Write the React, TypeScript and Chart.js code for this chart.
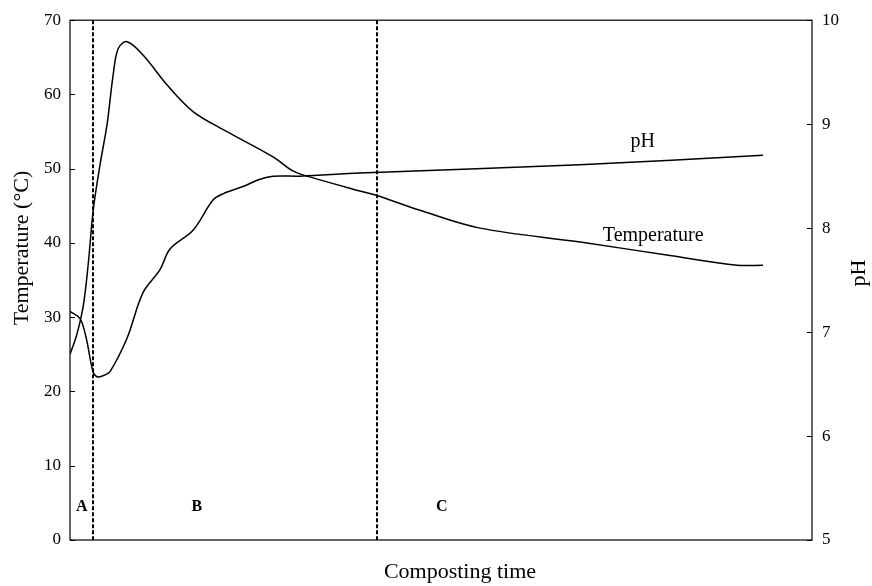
import React, { useEffect, useRef } from "react";
import { Chart, registerables } from "chart.js";

Chart.register(...registerables);

// x in relative composting-time units (0..100)
const tempX = [0, 0.9, 1.8, 2.47, 3.14, 4.04, 5.0, 5.8, 6.5, 7.7, 9.84, 13.07, 16.58, 21.16, 27.36, 30.05, 32.3, 39.08, 41.37, 47.17, 55.26, 69.0, 80.86, 89.9, 93.4];
const tempY = [25, 27.6, 31.6, 37.3, 44.5, 50.5, 56, 62.5, 66.2, 67.1, 65.3, 61.3, 57.7, 55, 51.6, 49.7, 48.9, 47, 46.4, 44.4, 42, 40.1, 38.3, 37, 37];

const phX = [0, 1.35, 2.16, 3.1, 3.64, 4.45, 5.39, 7.68, 9.84, 12.13, 13.48, 16.58, 19.27, 20.62, 23.32, 25.6, 27.36, 31.0, 39.08, 68.7, 93.4];
const phY = [7.2, 7.13, 6.95, 6.62, 6.57, 6.58, 6.62, 6.94, 7.38, 7.6, 7.8, 7.98, 8.27, 8.33, 8.4, 8.47, 8.5, 8.5, 8.53, 8.61, 8.7];

const phaseBoundaries = [3.1, 41.4];
const phaseLabels = ["A", "B", "C"];
const phaseLabelX = [1.6, 17.1, 50.1];
const phaseLabelTemp = 3.9;

const tempTicks = [0, 10, 20, 30, 40, 50, 60, 70];
const phTicks = [5, 6, 7, 8, 9, 10];

const seriesLabels = [
  { text: "pH", x: 77.2, y: 8.78, axis: "y1" },
  { text: "Temperature", x: 78.6, y: 40.3, axis: "y" },
];

const SERIF = "'Liberation Serif', 'Times New Roman', serif";

const decorPlugin = {
  id: "decor",
  afterDraw(chart: any) {
    const { ctx, chartArea, scales } = chart;
    const xs = scales.x, ys = scales.y, y1 = scales.y1;
    ctx.save();
    ctx.strokeStyle = "#000";
    ctx.lineWidth = 1.2;
    ctx.setLineDash([]);
    ctx.strokeRect(chartArea.left, chartArea.top, chartArea.right - chartArea.left, chartArea.bottom - chartArea.top);
    ctx.beginPath();
    tempTicks.forEach((t) => {
      const py = Math.round(ys.getPixelForValue(t)) + 0.5;
      ctx.moveTo(chartArea.left, py);
      ctx.lineTo(chartArea.left + 5, py);
    });
    phTicks.forEach((t) => {
      const py = Math.round(y1.getPixelForValue(t)) + 0.5;
      ctx.moveTo(chartArea.right, py);
      ctx.lineTo(chartArea.right - 5, py);
    });
    ctx.stroke();
    ctx.lineWidth = 2;
    ctx.setLineDash([4, 2]);
    ctx.beginPath();
    phaseBoundaries.forEach((b) => {
      const px = Math.round(xs.getPixelForValue(b));
      ctx.moveTo(px, chartArea.top);
      ctx.lineTo(px, chartArea.bottom);
    });
    ctx.stroke();
    ctx.setLineDash([]);
    ctx.fillStyle = "#000";
    ctx.font = `bold 16px ${SERIF}`;
    ctx.textAlign = "center";
    ctx.textBaseline = "alphabetic";
    phaseLabels.forEach((l, i) => {
      ctx.fillText(l, xs.getPixelForValue(phaseLabelX[i]), ys.getPixelForValue(phaseLabelTemp));
    });
    ctx.font = `20px ${SERIF}`;
    seriesLabels.forEach((s) => {
      const sc = s.axis === "y1" ? y1 : ys;
      ctx.fillText(s.text, xs.getPixelForValue(s.x), sc.getPixelForValue(s.y));
    });
    ctx.font = `22px ${SERIF}`;
    ctx.fillText("Composting time", 460, 578);
    ctx.save();
    ctx.translate(28, 248);
    ctx.rotate(-Math.PI / 2);
    ctx.fillText("Temperature (°C)", 0, 0);
    ctx.restore();
    ctx.save();
    ctx.translate(865, 273);
    ctx.rotate(-Math.PI / 2);
    ctx.fillText("pH", 0, 0);
    ctx.restore();
    ctx.restore();
  },
};

export default function App() {
  const ref = useRef<HTMLCanvasElement>(null);
  useEffect(() => {
    document.body.style.margin = "0";
    const canvas = ref.current!;
    const chart = new Chart(canvas, {
      type: "line",
      data: {
        datasets: [
          {
            label: "Temperature",
            data: tempX.map((x, i) => ({ x, y: tempY[i] })),
            yAxisID: "y",
            borderColor: "#000",
            borderWidth: 1.5,
            pointRadius: 0,
            tension: 0.35,
            fill: false,
          },
          {
            label: "pH",
            data: phX.map((x, i) => ({ x, y: phY[i] })),
            yAxisID: "y1",
            borderColor: "#000",
            borderWidth: 1.5,
            pointRadius: 0,
            tension: 0.35,
            fill: false,
          },
        ],
      },
      options: {
        animation: false,
        responsive: false,
        events: [],
        layout: { padding: { top: 15, bottom: 46, left: 0, right: 0 } },
        plugins: { legend: { display: false }, tooltip: { enabled: false }, title: { display: false } },
        scales: {
          x: { type: "linear", min: 0, max: 100, display: false },
          y: {
            type: "linear",
            position: "left",
            min: 0,
            max: 70,
            afterFit: (s: any) => { s.width = 70; },
            afterBuildTicks: (s: any) => { s.ticks = tempTicks.map((v) => ({ value: v })); },
            grid: { display: false, drawTicks: false },
            border: { display: false },
            ticks: { color: "#000", padding: 9, font: { family: SERIF, size: 17 } },
          },
          y1: {
            type: "linear",
            position: "right",
            min: 5,
            max: 10,
            afterFit: (s: any) => { s.width = 60; },
            afterBuildTicks: (s: any) => { s.ticks = phTicks.map((v) => ({ value: v })); },
            grid: { display: false, drawTicks: false },
            border: { display: false },
            ticks: { color: "#000", padding: 10, font: { family: SERIF, size: 17 } },
          },
        },
      } as any,
      plugins: [decorPlugin],
    });
    return () => chart.destroy();
  }, []);
  return (
    <div style={{ width: 872, height: 586 }}>
      <canvas ref={ref} width={872} height={586} style={{ display: "block" }} />
    </div>
  );
}
